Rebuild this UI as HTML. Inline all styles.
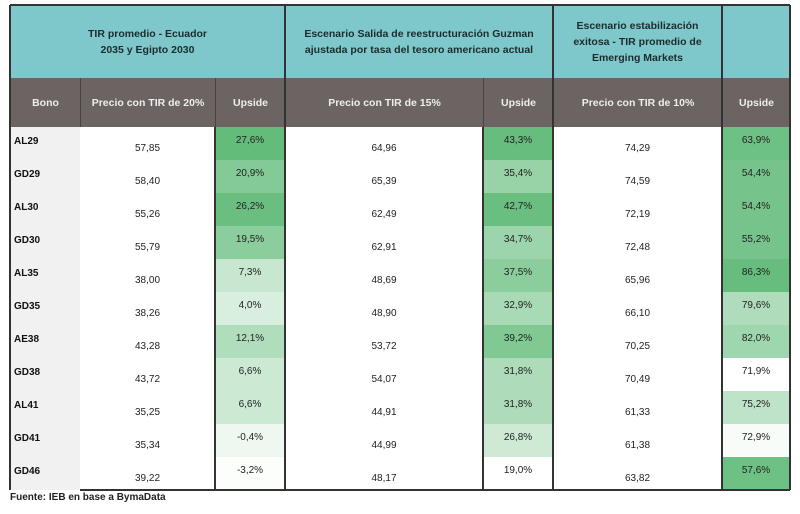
<!DOCTYPE html>
<html><head><meta charset="utf-8">
<style>
body{margin:0;width:800px;height:514px;background:#fff;font-family:"Liberation Sans",sans-serif;position:relative;overflow:hidden}
.c{position:absolute;box-sizing:border-box;text-align:center;color:#222;font-size:10px}
.h1{background:#7ec8cb;color:#1d2b2c;font-weight:bold;font-size:10.5px;display:flex;align-items:center;justify-content:center;line-height:16px}
.h2{background:#6c6463;color:#eee;font-weight:bold;font-size:10.5px;display:flex;align-items:center;justify-content:center}
.vl{position:absolute;background:#333;width:2px}
</style></head><body>
<div id="t"></div>
<div class="c" style="left:10px;top:492px;text-align:left;font-size:10px;font-weight:bold;color:#222">Fuente: IEB en base a BymaData</div>
<script>
const bonds=["AL29","GD29","AL30","GD30","AL35","GD35","AE38","GD38","AL41","GD41","GD46"];
const price20=["57,85","58,40","55,26","55,79","38,00","38,26","43,28","43,72","35,25","35,34","39,22"];
const up20=[27.6,20.9,26.2,19.5,7.3,4.0,12.1,6.6,6.6,-0.4,-3.2];
const price15=["64,96","65,39","62,49","62,91","48,69","48,90","53,72","54,07","44,91","44,99","48,17"];
const up15=[43.3,35.4,42.7,34.7,37.5,32.9,39.2,31.8,31.8,26.8,19.0];
const price10=["74,29","74,59","72,19","72,48","65,96","66,10","70,25","70,49","61,33","61,38","63,82"];
const up10=[63.9,54.4,54.4,55.2,86.3,79.6,82.0,71.9,75.2,72.9,57.6];
const shade10=[0.9,0.85,0.85,0.85,0.95,0.5,0.6,0,0.4,0.05,0.9];

const T=document.getElementById('t');
const top0=127,rh=33;
const cols=[[10,80],[80,215],[215,285],[285,483],[483,553],[553,722],[722,790]];
function cell(x1,x2,y,h,cls,html,name,style){
  const d=document.createElement('div');
  d.className='c '+cls;
  d.style.cssText=`left:${x1}px;top:${y}px;width:${x2-x1}px;height:${h}px;`+(style||'');
  d.innerHTML=html;
  
  
  T.appendChild(d);return d;
}
function green(t){t=Math.max(0,Math.min(1,t));
  const r=Math.round(255+(94-255)*t),g=Math.round(255+(186-255)*t),b=Math.round(255+(118-255)*t);
  return `rgb(${r},${g},${b})`;}
function fmt(v){return v.toFixed(1).replace('.',',')+'%';}
cell(10,285,5,73,'h1','TIR promedio - Ecuador<br>2035 y Egipto 2030','header-scenario-1');
cell(285,553,5,73,'h1','Escenario Salida de reestructuración Guzman<br>ajustada por tasa del tesoro americano actual','header-scenario-2');
cell(553,722,5,73,'h1','Escenario estabilización<br>exitosa - TIR promedio de<br>Emerging Markets','header-scenario-3');
cell(722,790,5,73,'h1','','header-scenario-3-blank');
const sub=["Bono","Precio con TIR de 20%","Upside","Precio con TIR de 15%","Upside","Precio con TIR de 10%","Upside"];
sub.forEach((s,i)=>cell(cols[i][0],cols[i][1],78,49,'h2',s,'subheader-'+i,'border-left:1px solid #4a4342'));
function scale(arr){const mn=Math.min(...arr),mx=Math.max(...arr);return v=>(v-mn)/(mx-mn);}
const s20=scale(up20),s15=scale(up15);
bonds.forEach((b,i)=>{
  const y=top0+i*rh;
  cell(10,80,y,rh,'',b,'bond-label','background:#f1f1f1;text-align:left;padding:9px 0 0 4px;font-weight:bold;color:#111');
  cell(80,215,y,rh,'',price20[i],'price-tir20','padding-top:16px');
  cell(215,285,y,rh,'',fmt(up20[i]),'upside-tir20','padding-top:8px;background:'+green(s20(up20[i])*0.95+0.02));
  cell(285,483,y,rh,'',price15[i],'price-tir15','padding-top:16px');
  cell(483,553,y,rh,'',fmt(up15[i]),'upside-tir15','padding-top:8px;background:'+green(s15(up15[i])*0.95));
  cell(553,722,y,rh,'',price10[i],'price-tir10','padding-top:16px');
  cell(722,790,y,rh,'',fmt(up10[i]),'upside-tir10','padding-top:8px;background:'+green(shade10[i]));
});
const bottom=top0+11*rh;
function vl(x,y1,y2){const d=document.createElement('div');d.className='vl';d.style.cssText=`left:${x-1}px;top:${y1}px;height:${y2-y1}px`;


T.appendChild(d);}
[10,285,553,722,790].forEach(x=>vl(x,5,bottom));
[215,483].forEach(x=>vl(x,top0,bottom));
function hl(y,x1,x2){const d=document.createElement('div');d.style.cssText=`position:absolute;left:${x1}px;top:${y}px;width:${x2-x1}px;height:2px;background:#333`;


T.appendChild(d);}
hl(4,10,790);hl(bottom-1,80,790);
</script>
</body></html>
